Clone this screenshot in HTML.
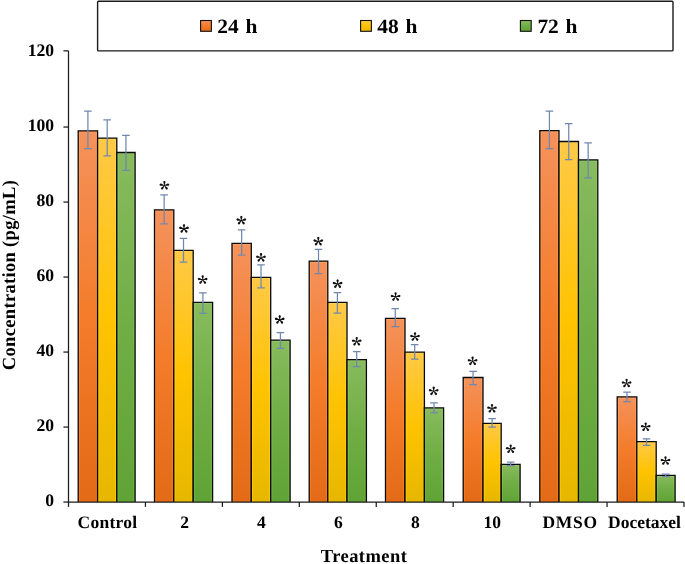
<!DOCTYPE html>
<html><head><meta charset="utf-8"><style>
html,body{margin:0;padding:0;background:#fff;width:685px;height:564px;overflow:hidden}
svg{display:block;will-change:transform}
text{text-rendering:geometricPrecision;font-family:"Liberation Serif",serif;font-weight:bold;fill:#000}
.yl{font-size:17.6px;text-anchor:end}
.xl{font-size:17.5px;text-anchor:middle}
.lg{font-size:20.3px}
.ti{font-size:18.5px;text-anchor:middle}
</style></head><body>
<svg width="685" height="564" viewBox="0 0 685 564">
<defs>
<linearGradient id="go" x1="0" y1="0" x2="0" y2="1"><stop offset="0" stop-color="#f4925c"/><stop offset="0.5" stop-color="#f47c2a"/><stop offset="1" stop-color="#e36a16"/></linearGradient>
<linearGradient id="gy" x1="0" y1="0" x2="0" y2="1"><stop offset="0" stop-color="#ffc947"/><stop offset="0.5" stop-color="#ffc300"/><stop offset="1" stop-color="#e6b700"/></linearGradient>
<linearGradient id="gg" x1="0" y1="0" x2="0" y2="1"><stop offset="0" stop-color="#88bb5e"/><stop offset="0.5" stop-color="#70ae45"/><stop offset="1" stop-color="#60a335"/></linearGradient>
<linearGradient id="hgo" x1="0" y1="0" x2="0" y2="1"><stop offset="0" stop-color="#ffa066"/><stop offset="1" stop-color="#f77b1c"/></linearGradient>
<linearGradient id="hgy" x1="0" y1="0" x2="0" y2="1"><stop offset="0" stop-color="#ffd35a"/><stop offset="1" stop-color="#ffca00"/></linearGradient>
<linearGradient id="hgg" x1="0" y1="0" x2="0" y2="1"><stop offset="0" stop-color="#96c76c"/><stop offset="1" stop-color="#6fb53c"/></linearGradient>
</defs>

<rect x="97.6" y="1.25" width="575.4" height="49.65" fill="#fff" stroke="#1a1a1a" stroke-width="1.4" rx="1"/>
<rect x="200.6" y="20.5" width="10.8" height="10.8" fill="url(#go)" stroke="#111" stroke-width="1.1"/>
<text transform="translate(217.3,32.8) scale(1.056,1)" class="lg">24</text><text transform="translate(245.5,32.8) scale(1.056,1)" class="lg">h</text>
<rect x="360.6" y="20.5" width="10.8" height="10.8" fill="url(#gy)" stroke="#111" stroke-width="1.1"/>
<text transform="translate(377.2,32.8) scale(1.056,1)" class="lg">48</text><text transform="translate(405.4,32.8) scale(1.056,1)" class="lg">h</text>
<rect x="520.4" y="20.5" width="10.8" height="10.8" fill="url(#gg)" stroke="#111" stroke-width="1.1"/>
<text transform="translate(537.4,32.8) scale(1.056,1)" class="lg">72</text><text transform="translate(565.6,32.8) scale(1.056,1)" class="lg">h</text>

<rect x="78.20" y="130.80" width="19.40" height="371.26" fill="url(#go)"/><path d="M79.35 502.06V131.95H96.45V502.06" fill="none" stroke="url(#hgo)" stroke-width="0.9"/><path d="M78.20 502.06V130.80H97.60V502.06" fill="none" stroke="#0a0a0a" stroke-width="1.3"/><rect x="97.60" y="138.10" width="19.20" height="363.96" fill="url(#gy)"/><path d="M98.75 502.06V139.25H115.65V502.06" fill="none" stroke="url(#hgy)" stroke-width="0.9"/><path d="M97.60 502.06V138.10H116.80V502.06" fill="none" stroke="#0a0a0a" stroke-width="1.3"/><rect x="116.80" y="152.50" width="18.30" height="349.56" fill="url(#gg)"/><path d="M117.95 502.06V153.65H133.95V502.06" fill="none" stroke="url(#hgg)" stroke-width="0.9"/><path d="M116.80 502.06V152.50H135.10V502.06" fill="none" stroke="#0a0a0a" stroke-width="1.3"/><rect x="154.50" y="209.80" width="19.30" height="292.26" fill="url(#go)"/><path d="M155.65 502.06V210.95H172.65V502.06" fill="none" stroke="url(#hgo)" stroke-width="0.9"/><path d="M154.50 502.06V209.80H173.80V502.06" fill="none" stroke="#0a0a0a" stroke-width="1.3"/><rect x="173.80" y="250.40" width="19.40" height="251.66" fill="url(#gy)"/><path d="M174.95 502.06V251.55H192.05V502.06" fill="none" stroke="url(#hgy)" stroke-width="0.9"/><path d="M173.80 502.06V250.40H193.20V502.06" fill="none" stroke="#0a0a0a" stroke-width="1.3"/><rect x="193.20" y="302.40" width="19.40" height="199.66" fill="url(#gg)"/><path d="M194.35 502.06V303.55H211.45V502.06" fill="none" stroke="url(#hgg)" stroke-width="0.9"/><path d="M193.20 502.06V302.40H212.60V502.06" fill="none" stroke="#0a0a0a" stroke-width="1.3"/><rect x="232.00" y="243.40" width="19.30" height="258.66" fill="url(#go)"/><path d="M233.15 502.06V244.55H250.15V502.06" fill="none" stroke="url(#hgo)" stroke-width="0.9"/><path d="M232.00 502.06V243.40H251.30V502.06" fill="none" stroke="#0a0a0a" stroke-width="1.3"/><rect x="251.30" y="277.40" width="19.40" height="224.66" fill="url(#gy)"/><path d="M252.45 502.06V278.55H269.55V502.06" fill="none" stroke="url(#hgy)" stroke-width="0.9"/><path d="M251.30 502.06V277.40H270.70V502.06" fill="none" stroke="#0a0a0a" stroke-width="1.3"/><rect x="270.70" y="340.20" width="19.40" height="161.86" fill="url(#gg)"/><path d="M271.85 502.06V341.35H288.95V502.06" fill="none" stroke="url(#hgg)" stroke-width="0.9"/><path d="M270.70 502.06V340.20H290.10V502.06" fill="none" stroke="#0a0a0a" stroke-width="1.3"/><rect x="309.20" y="261.20" width="18.60" height="240.86" fill="url(#go)"/><path d="M310.35 502.06V262.35H326.65V502.06" fill="none" stroke="url(#hgo)" stroke-width="0.9"/><path d="M309.20 502.06V261.20H327.80V502.06" fill="none" stroke="#0a0a0a" stroke-width="1.3"/><rect x="327.80" y="302.40" width="19.20" height="199.66" fill="url(#gy)"/><path d="M328.95 502.06V303.55H345.85V502.06" fill="none" stroke="url(#hgy)" stroke-width="0.9"/><path d="M327.80 502.06V302.40H347.00V502.06" fill="none" stroke="#0a0a0a" stroke-width="1.3"/><rect x="347.00" y="359.60" width="19.40" height="142.46" fill="url(#gg)"/><path d="M348.15 502.06V360.75H365.25V502.06" fill="none" stroke="url(#hgg)" stroke-width="0.9"/><path d="M347.00 502.06V359.60H366.40V502.06" fill="none" stroke="#0a0a0a" stroke-width="1.3"/><rect x="385.50" y="318.40" width="19.50" height="183.66" fill="url(#go)"/><path d="M386.65 502.06V319.55H403.85V502.06" fill="none" stroke="url(#hgo)" stroke-width="0.9"/><path d="M385.50 502.06V318.40H405.00V502.06" fill="none" stroke="#0a0a0a" stroke-width="1.3"/><rect x="405.00" y="352.10" width="19.40" height="149.96" fill="url(#gy)"/><path d="M406.15 502.06V353.25H423.25V502.06" fill="none" stroke="url(#hgy)" stroke-width="0.9"/><path d="M405.00 502.06V352.10H424.40V502.06" fill="none" stroke="#0a0a0a" stroke-width="1.3"/><rect x="424.40" y="407.80" width="19.20" height="94.26" fill="url(#gg)"/><path d="M425.55 502.06V408.95H442.45V502.06" fill="none" stroke="url(#hgg)" stroke-width="0.9"/><path d="M424.40 502.06V407.80H443.60V502.06" fill="none" stroke="#0a0a0a" stroke-width="1.3"/><rect x="463.20" y="377.50" width="19.80" height="124.56" fill="url(#go)"/><path d="M464.35 502.06V378.65H481.85V502.06" fill="none" stroke="url(#hgo)" stroke-width="0.9"/><path d="M463.20 502.06V377.50H483.00V502.06" fill="none" stroke="#0a0a0a" stroke-width="1.3"/><rect x="483.00" y="423.30" width="18.20" height="78.76" fill="url(#gy)"/><path d="M484.15 502.06V424.45H500.05V502.06" fill="none" stroke="url(#hgy)" stroke-width="0.9"/><path d="M483.00 502.06V423.30H501.20V502.06" fill="none" stroke="#0a0a0a" stroke-width="1.3"/><rect x="501.20" y="464.30" width="18.90" height="37.76" fill="url(#gg)"/><path d="M502.35 502.06V465.45H518.95V502.06" fill="none" stroke="url(#hgg)" stroke-width="0.9"/><path d="M501.20 502.06V464.30H520.10V502.06" fill="none" stroke="#0a0a0a" stroke-width="1.3"/><rect x="539.80" y="130.70" width="19.20" height="371.36" fill="url(#go)"/><path d="M540.95 502.06V131.85H557.85V502.06" fill="none" stroke="url(#hgo)" stroke-width="0.9"/><path d="M539.80 502.06V130.70H559.00V502.06" fill="none" stroke="#0a0a0a" stroke-width="1.3"/><rect x="559.00" y="141.50" width="19.50" height="360.56" fill="url(#gy)"/><path d="M560.15 502.06V142.65H577.35V502.06" fill="none" stroke="url(#hgy)" stroke-width="0.9"/><path d="M559.00 502.06V141.50H578.50V502.06" fill="none" stroke="#0a0a0a" stroke-width="1.3"/><rect x="578.50" y="159.80" width="19.30" height="342.26" fill="url(#gg)"/><path d="M579.65 502.06V160.95H596.65V502.06" fill="none" stroke="url(#hgg)" stroke-width="0.9"/><path d="M578.50 502.06V159.80H597.80V502.06" fill="none" stroke="#0a0a0a" stroke-width="1.3"/><rect x="617.20" y="396.90" width="19.60" height="105.16" fill="url(#go)"/><path d="M618.35 502.06V398.05H635.65V502.06" fill="none" stroke="url(#hgo)" stroke-width="0.9"/><path d="M617.20 502.06V396.90H636.80V502.06" fill="none" stroke="#0a0a0a" stroke-width="1.3"/><rect x="636.80" y="441.60" width="19.40" height="60.46" fill="url(#gy)"/><path d="M637.95 502.06V442.75H655.05V502.06" fill="none" stroke="url(#hgy)" stroke-width="0.9"/><path d="M636.80 502.06V441.60H656.20V502.06" fill="none" stroke="#0a0a0a" stroke-width="1.3"/><rect x="656.20" y="475.30" width="18.90" height="26.76" fill="url(#gg)"/><path d="M657.35 502.06V476.45H673.95V502.06" fill="none" stroke="url(#hgg)" stroke-width="0.9"/><path d="M656.20 502.06V475.30H675.10V502.06" fill="none" stroke="#0a0a0a" stroke-width="1.3"/><path d="M87.90 111.20V148.60M84.10 111.20H91.70M84.10 148.60H91.70" stroke="#7088ae" stroke-width="1.25" fill="none"/><path d="M107.20 119.90V155.80M103.40 119.90H111.00M103.40 155.80H111.00" stroke="#7088ae" stroke-width="1.25" fill="none"/><path d="M125.95 135.40V170.30M122.15 135.40H129.75M122.15 170.30H129.75" stroke="#7088ae" stroke-width="1.25" fill="none"/><path d="M164.15 194.90V223.80M160.35 194.90H167.95M160.35 223.80H167.95" stroke="#7088ae" stroke-width="1.25" fill="none"/><path d="M183.50 238.30V262.20M179.70 238.30H187.30M179.70 262.20H187.30" stroke="#7088ae" stroke-width="1.25" fill="none"/><path d="M202.90 292.90V313.40M199.10 292.90H206.70M199.10 313.40H206.70" stroke="#7088ae" stroke-width="1.25" fill="none"/><path d="M241.65 229.90V255.20M237.85 229.90H245.45M237.85 255.20H245.45" stroke="#7088ae" stroke-width="1.25" fill="none"/><path d="M261.00 264.80V287.80M257.20 264.80H264.80M257.20 287.80H264.80" stroke="#7088ae" stroke-width="1.25" fill="none"/><path d="M280.40 332.70V348.40M276.60 332.70H284.20M276.60 348.40H284.20" stroke="#7088ae" stroke-width="1.25" fill="none"/><path d="M318.50 249.40V273.50M314.70 249.40H322.30M314.70 273.50H322.30" stroke="#7088ae" stroke-width="1.25" fill="none"/><path d="M337.40 292.70V313.00M333.60 292.70H341.20M333.60 313.00H341.20" stroke="#7088ae" stroke-width="1.25" fill="none"/><path d="M356.70 351.70V366.50M352.90 351.70H360.50M352.90 366.50H360.50" stroke="#7088ae" stroke-width="1.25" fill="none"/><path d="M395.25 308.60V326.50M391.45 308.60H399.05M391.45 326.50H399.05" stroke="#7088ae" stroke-width="1.25" fill="none"/><path d="M414.70 344.50V359.10M410.90 344.50H418.50M410.90 359.10H418.50" stroke="#7088ae" stroke-width="1.25" fill="none"/><path d="M434.00 402.80V412.60M430.20 402.80H437.80M430.20 412.60H437.80" stroke="#7088ae" stroke-width="1.25" fill="none"/><path d="M473.10 371.40V384.60M469.30 371.40H476.90M469.30 384.60H476.90" stroke="#7088ae" stroke-width="1.25" fill="none"/><path d="M492.10 418.60V427.20M488.30 418.60H495.90M488.30 427.20H495.90" stroke="#7088ae" stroke-width="1.25" fill="none"/><path d="M510.65 462.00V465.50M506.85 462.00H514.45M506.85 465.50H514.45" stroke="#7088ae" stroke-width="1.25" fill="none"/><path d="M549.40 111.20V148.60M545.60 111.20H553.20M545.60 148.60H553.20" stroke="#7088ae" stroke-width="1.25" fill="none"/><path d="M568.75 123.60V159.50M564.95 123.60H572.55M564.95 159.50H572.55" stroke="#7088ae" stroke-width="1.25" fill="none"/><path d="M588.15 142.90V177.80M584.35 142.90H591.95M584.35 177.80H591.95" stroke="#7088ae" stroke-width="1.25" fill="none"/><path d="M627.00 392.00V401.60M623.20 392.00H630.80M623.20 401.60H630.80" stroke="#7088ae" stroke-width="1.25" fill="none"/><path d="M646.50 438.90V445.30M642.70 438.90H650.30M642.70 445.30H650.30" stroke="#7088ae" stroke-width="1.25" fill="none"/><path d="M665.65 474.00V476.50M661.85 474.00H669.45M661.85 476.50H669.45" stroke="#7088ae" stroke-width="1.25" fill="none"/><path d="M164.58 185.50L165.32 182.79A1.15 1.15 0 1 0 163.48 182.79L164.22 185.50ZM164.44 185.68L167.57 185.73A1.20 1.20 0 1 0 167.12 183.86L164.36 185.32ZM164.44 185.32L161.68 183.86A1.20 1.20 0 1 0 161.23 185.73L164.36 185.68ZM164.26 185.61L165.50 188.38A1.20 1.20 0 1 0 166.99 187.17L164.54 185.39ZM164.26 185.39L161.81 187.17A1.20 1.20 0 1 0 163.30 188.38L164.54 185.61ZM184.18 228.70L184.92 225.99A1.15 1.15 0 1 0 183.08 225.99L183.82 228.70ZM184.04 228.88L187.17 228.93A1.20 1.20 0 1 0 186.72 227.06L183.96 228.52ZM184.04 228.52L181.28 227.06A1.20 1.20 0 1 0 180.83 228.93L183.96 228.88ZM183.86 228.81L185.10 231.58A1.20 1.20 0 1 0 186.59 230.37L184.14 228.59ZM183.86 228.59L181.41 230.37A1.20 1.20 0 1 0 182.90 231.58L184.14 228.81ZM202.88 279.80L203.62 277.09A1.15 1.15 0 1 0 201.78 277.09L202.52 279.80ZM202.74 279.98L205.87 280.03A1.20 1.20 0 1 0 205.42 278.16L202.66 279.62ZM202.74 279.62L199.98 278.16A1.20 1.20 0 1 0 199.53 280.03L202.66 279.98ZM202.56 279.91L203.80 282.68A1.20 1.20 0 1 0 205.29 281.47L202.84 279.69ZM202.56 279.69L200.11 281.47A1.20 1.20 0 1 0 201.60 282.68L202.84 279.91ZM241.48 220.40L242.22 217.69A1.15 1.15 0 1 0 240.38 217.69L241.12 220.40ZM241.34 220.58L244.47 220.63A1.20 1.20 0 1 0 244.02 218.76L241.26 220.22ZM241.34 220.22L238.58 218.76A1.20 1.20 0 1 0 238.13 220.63L241.26 220.58ZM241.16 220.51L242.40 223.28A1.20 1.20 0 1 0 243.89 222.07L241.44 220.29ZM241.16 220.29L238.71 222.07A1.20 1.20 0 1 0 240.20 223.28L241.44 220.51ZM261.18 257.60L261.92 254.89A1.15 1.15 0 1 0 260.08 254.89L260.82 257.60ZM261.04 257.78L264.17 257.83A1.20 1.20 0 1 0 263.72 255.96L260.96 257.42ZM261.04 257.42L258.28 255.96A1.20 1.20 0 1 0 257.83 257.83L260.96 257.78ZM260.86 257.71L262.10 260.48A1.20 1.20 0 1 0 263.59 259.27L261.14 257.49ZM260.86 257.49L258.41 259.27A1.20 1.20 0 1 0 259.90 260.48L261.14 257.71ZM279.88 319.70L280.62 316.99A1.15 1.15 0 1 0 278.78 316.99L279.52 319.70ZM279.74 319.88L282.87 319.93A1.20 1.20 0 1 0 282.42 318.06L279.66 319.52ZM279.74 319.52L276.98 318.06A1.20 1.20 0 1 0 276.53 319.93L279.66 319.88ZM279.56 319.81L280.80 322.58A1.20 1.20 0 1 0 282.29 321.37L279.84 319.59ZM279.56 319.59L277.11 321.37A1.20 1.20 0 1 0 278.60 322.58L279.84 319.81ZM318.48 241.40L319.22 238.69A1.15 1.15 0 1 0 317.38 238.69L318.12 241.40ZM318.34 241.58L321.47 241.63A1.20 1.20 0 1 0 321.02 239.76L318.26 241.22ZM318.34 241.22L315.58 239.76A1.20 1.20 0 1 0 315.13 241.63L318.26 241.58ZM318.16 241.51L319.40 244.28A1.20 1.20 0 1 0 320.89 243.07L318.44 241.29ZM318.16 241.29L315.71 243.07A1.20 1.20 0 1 0 317.20 244.28L318.44 241.51ZM337.78 283.90L338.52 281.19A1.15 1.15 0 1 0 336.68 281.19L337.42 283.90ZM337.64 284.08L340.77 284.13A1.20 1.20 0 1 0 340.32 282.26L337.56 283.72ZM337.64 283.72L334.88 282.26A1.20 1.20 0 1 0 334.43 284.13L337.56 284.08ZM337.46 284.01L338.70 286.78A1.20 1.20 0 1 0 340.19 285.57L337.74 283.79ZM337.46 283.79L335.01 285.57A1.20 1.20 0 1 0 336.50 286.78L337.74 284.01ZM356.88 341.50L357.62 338.79A1.15 1.15 0 1 0 355.78 338.79L356.52 341.50ZM356.74 341.68L359.87 341.73A1.20 1.20 0 1 0 359.42 339.86L356.66 341.32ZM356.74 341.32L353.98 339.86A1.20 1.20 0 1 0 353.53 341.73L356.66 341.68ZM356.56 341.61L357.80 344.38A1.20 1.20 0 1 0 359.29 343.17L356.84 341.39ZM356.56 341.39L354.11 343.17A1.20 1.20 0 1 0 355.60 344.38L356.84 341.61ZM395.78 296.80L396.52 294.09A1.15 1.15 0 1 0 394.68 294.09L395.42 296.80ZM395.64 296.98L398.77 297.03A1.20 1.20 0 1 0 398.32 295.16L395.56 296.62ZM395.64 296.62L392.88 295.16A1.20 1.20 0 1 0 392.43 297.03L395.56 296.98ZM395.46 296.91L396.70 299.68A1.20 1.20 0 1 0 398.19 298.47L395.74 296.69ZM395.46 296.69L393.01 298.47A1.20 1.20 0 1 0 394.50 299.68L395.74 296.91ZM415.18 336.80L415.92 334.09A1.15 1.15 0 1 0 414.08 334.09L414.82 336.80ZM415.04 336.98L418.17 337.03A1.20 1.20 0 1 0 417.72 335.16L414.96 336.62ZM415.04 336.62L412.28 335.16A1.20 1.20 0 1 0 411.83 337.03L414.96 336.98ZM414.86 336.91L416.10 339.68A1.20 1.20 0 1 0 417.59 338.47L415.14 336.69ZM414.86 336.69L412.41 338.47A1.20 1.20 0 1 0 413.90 339.68L415.14 336.91ZM433.88 391.10L434.62 388.39A1.15 1.15 0 1 0 432.78 388.39L433.52 391.10ZM433.74 391.28L436.87 391.33A1.20 1.20 0 1 0 436.42 389.46L433.66 390.92ZM433.74 390.92L430.98 389.46A1.20 1.20 0 1 0 430.53 391.33L433.66 391.28ZM433.56 391.21L434.80 393.98A1.20 1.20 0 1 0 436.29 392.77L433.84 390.99ZM433.56 390.99L431.11 392.77A1.20 1.20 0 1 0 432.60 393.98L433.84 391.21ZM472.78 361.10L473.52 358.39A1.15 1.15 0 1 0 471.68 358.39L472.42 361.10ZM472.64 361.28L475.77 361.33A1.20 1.20 0 1 0 475.32 359.46L472.56 360.92ZM472.64 360.92L469.88 359.46A1.20 1.20 0 1 0 469.43 361.33L472.56 361.28ZM472.46 361.21L473.70 363.98A1.20 1.20 0 1 0 475.19 362.77L472.74 360.99ZM472.46 360.99L470.01 362.77A1.20 1.20 0 1 0 471.50 363.98L472.74 361.21ZM492.18 408.50L492.92 405.79A1.15 1.15 0 1 0 491.08 405.79L491.82 408.50ZM492.04 408.68L495.17 408.73A1.20 1.20 0 1 0 494.72 406.86L491.96 408.32ZM492.04 408.32L489.28 406.86A1.20 1.20 0 1 0 488.83 408.73L491.96 408.68ZM491.86 408.61L493.10 411.38A1.20 1.20 0 1 0 494.59 410.17L492.14 408.39ZM491.86 408.39L489.41 410.17A1.20 1.20 0 1 0 490.90 411.38L492.14 408.61ZM510.88 449.00L511.62 446.29A1.15 1.15 0 1 0 509.78 446.29L510.52 449.00ZM510.74 449.18L513.87 449.23A1.20 1.20 0 1 0 513.42 447.36L510.66 448.82ZM510.74 448.82L507.98 447.36A1.20 1.20 0 1 0 507.53 449.23L510.66 449.18ZM510.56 449.11L511.80 451.88A1.20 1.20 0 1 0 513.29 450.67L510.84 448.89ZM510.56 448.89L508.11 450.67A1.20 1.20 0 1 0 509.60 451.88L510.84 449.11ZM626.78 383.30L627.52 380.59A1.15 1.15 0 1 0 625.68 380.59L626.42 383.30ZM626.64 383.48L629.77 383.53A1.20 1.20 0 1 0 629.32 381.66L626.56 383.12ZM626.64 383.12L623.88 381.66A1.20 1.20 0 1 0 623.43 383.53L626.56 383.48ZM626.46 383.41L627.70 386.18A1.20 1.20 0 1 0 629.19 384.97L626.74 383.19ZM626.46 383.19L624.01 384.97A1.20 1.20 0 1 0 625.50 386.18L626.74 383.41ZM645.88 427.00L646.62 424.29A1.15 1.15 0 1 0 644.78 424.29L645.52 427.00ZM645.74 427.18L648.87 427.23A1.20 1.20 0 1 0 648.42 425.36L645.66 426.82ZM645.74 426.82L642.98 425.36A1.20 1.20 0 1 0 642.53 427.23L645.66 427.18ZM645.56 427.11L646.80 429.88A1.20 1.20 0 1 0 648.29 428.67L645.84 426.89ZM645.56 426.89L643.11 428.67A1.20 1.20 0 1 0 644.60 429.88L645.84 427.11ZM665.68 460.80L666.42 458.09A1.15 1.15 0 1 0 664.58 458.09L665.32 460.80ZM665.54 460.98L668.67 461.03A1.20 1.20 0 1 0 668.22 459.16L665.46 460.62ZM665.54 460.62L662.78 459.16A1.20 1.20 0 1 0 662.33 461.03L665.46 460.98ZM665.36 460.91L666.60 463.68A1.20 1.20 0 1 0 668.09 462.47L665.64 460.69ZM665.36 460.69L662.91 462.47A1.20 1.20 0 1 0 664.40 463.68L665.64 460.91Z" fill="#111"/>
<path d="M68.5 50.85V502.06H684.0" stroke="#1c1c1c" stroke-width="1.25" fill="none"/><path d="M63.4 502.06H68.5" stroke="#1c1c1c" stroke-width="1.25"/><text x="54.1" y="506.16" class="yl">0</text><path d="M63.4 427.06H68.5" stroke="#1c1c1c" stroke-width="1.25"/><text x="54.1" y="431.16" class="yl">20</text><path d="M63.4 352.06H68.5" stroke="#1c1c1c" stroke-width="1.25"/><text x="54.1" y="356.16" class="yl">40</text><path d="M63.4 277.06H68.5" stroke="#1c1c1c" stroke-width="1.25"/><text x="54.1" y="281.16" class="yl">60</text><path d="M63.4 202.06H68.5" stroke="#1c1c1c" stroke-width="1.25"/><text x="54.1" y="206.16" class="yl">80</text><path d="M63.4 127.06H68.5" stroke="#1c1c1c" stroke-width="1.25"/><text x="54.1" y="131.16" class="yl">100</text><path d="M63.4 50.85H68.5" stroke="#1c1c1c" stroke-width="1.25"/><text x="54.1" y="56.20" class="yl">120</text><path d="M68.50 502.06V506.9" stroke="#1c1c1c" stroke-width="1.25"/><path d="M145.44 502.06V506.9" stroke="#1c1c1c" stroke-width="1.25"/><path d="M222.38 502.06V506.9" stroke="#1c1c1c" stroke-width="1.25"/><path d="M299.31 502.06V506.9" stroke="#1c1c1c" stroke-width="1.25"/><path d="M376.25 502.06V506.9" stroke="#1c1c1c" stroke-width="1.25"/><path d="M453.19 502.06V506.9" stroke="#1c1c1c" stroke-width="1.25"/><path d="M530.12 502.06V506.9" stroke="#1c1c1c" stroke-width="1.25"/><path d="M607.06 502.06V506.9" stroke="#1c1c1c" stroke-width="1.25"/><path d="M684.00 502.06V506.9" stroke="#1c1c1c" stroke-width="1.25"/><text x="107.37" y="527.6" class="xl" textLength="59.6" lengthAdjust="spacing">Control</text><text x="184.51" y="527.6" class="xl">2</text><text x="261.44" y="527.6" class="xl">4</text><text x="338.38" y="527.6" class="xl">6</text><text x="415.32" y="527.6" class="xl">8</text><text x="492.26" y="527.6" class="xl">10</text><text x="569.79" y="527.6" class="xl" textLength="54.5" lengthAdjust="spacing">DMSO</text><text x="644.53" y="527.6" class="xl">Docetaxel</text>
<text x="363.8" y="562.2" class="ti" textLength="86" lengthAdjust="spacing">Treatment</text>
<text transform="translate(15.2,275.2) rotate(-90)" class="ti" textLength="190" lengthAdjust="spacing">Concentration (pg/mL)</text>
</svg>
</body></html>
